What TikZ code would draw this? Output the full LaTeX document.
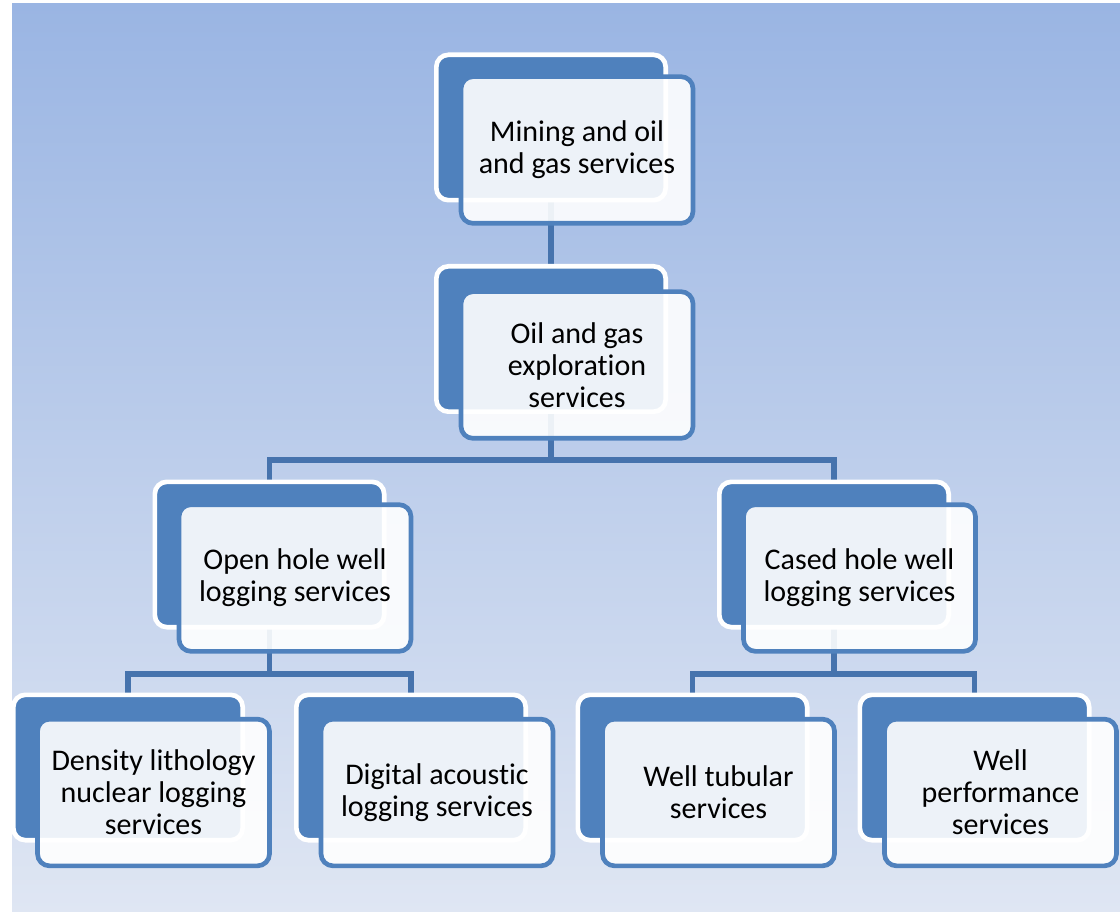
\documentclass[tikz,border=0pt]{standalone}
\usepackage{fontspec}
\setmainfont{Carlito}[Ligatures=NoCommon]
\definecolor{boxblue}{HTML}{4F81BD}
\definecolor{linkblue}{HTML}{4673AD}
\definecolor{bgtop}{HTML}{9AB5E3}
\definecolor{bgbot}{HTML}{DFE6F3}
\pgfdeclarelayer{bg}
\pgfsetlayers{bg,main}
\begin{document}
\begin{tikzpicture}[x=0.75pt,y=-0.75pt,
  backbox/.style={rectangle, rounded corners=9pt, fill=boxblue, draw=white, line width=3.5pt,
    minimum width=172pt, minimum height=109pt, inner sep=0pt},
  frontbox/.style={rectangle, rounded corners=9pt, draw=boxblue, line width=3.5pt,
    fill=white, fill opacity=0.9, text opacity=1, text=black,
    minimum width=174pt, minimum height=110pt, inner sep=0pt, align=center,
    font=\fontsize{22.5}{24}\selectfont},
  conn/.style={draw=linkblue, line width=3.9pt}]
\useasboundingbox (0,0) rectangle (1120,912);

% level 1
\node[backbox] (b1) at (551,127.5) {};
\node[frontbox] (f1) at (577,150) {Mining and oil\\and gas services};
% level 2
\node[backbox] (b2) at (551,339) {};
\node[frontbox] (f2) at (577,365) {Oil and gas\\exploration\\services};
% level 3
\node[backbox] (b3) at (269.5,554.5) {};
\node[frontbox] (f3) at (295,578) {Open hole well\\logging services};
\node[backbox] (b4) at (834,554.5) {};
\node[frontbox] (f4) at (859.5,578) {Cased hole well\\logging services};
% level 4
\node[backbox] (b5) at (128,767.5) {};
\node[frontbox] (f5) at (153.5,792.5) {Density lithology\\nuclear logging\\services};
\node[backbox] (b6) at (411,767.5) {};
\node[frontbox] (f6) at (437,792.5) {Digital acoustic\\logging services};
\node[backbox] (b7) at (692.5,767.5) {};
\node[frontbox] (f7) at (718.5,792.5) {Well tubular\\services};
\node[backbox] (b8) at (974.5,767.5) {};
\node[frontbox] (f8) at (1000.5,792.5) {Well\\performance\\services};

\coordinate (j1) at (551,460);
\coordinate (j2) at (269.5,674);
\coordinate (j3) at (834,674);

\begin{pgfonlayer}{bg}
  \shade[top color=bgtop, bottom color=bgbot] (12,4) rectangle (1120,912);
  \draw[conn] (b1.center) -- (b2.center);
  \draw[conn] (b2.center) -- (j1);
  \draw[conn] (b3.center) |- (j1);
  \draw[conn] (b4.center) |- (j1);
  \draw[conn] (b3.center) -- (j2);
  \draw[conn] (b5.center) |- (j2);
  \draw[conn] (b6.center) |- (j2);
  \draw[conn] (b4.center) -- (j3);
  \draw[conn] (b7.center) |- (j3);
  \draw[conn] (b8.center) |- (j3);
\end{pgfonlayer}
\end{tikzpicture}
\end{document}
